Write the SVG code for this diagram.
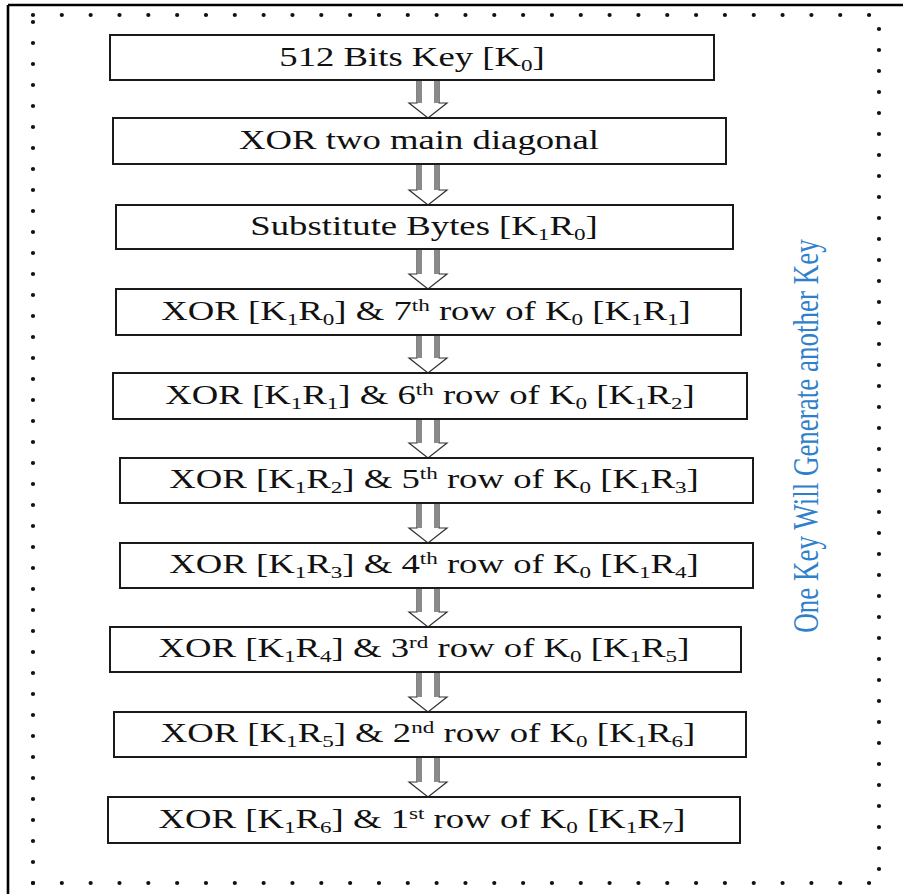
<svg xmlns="http://www.w3.org/2000/svg" width="903" height="894" viewBox="0 0 903 894">
<style>
.box{fill:#fff;stroke:#1a1a1a;stroke-width:2}
.lbl{font-family:'Liberation Serif','Times New Roman',Tinos,'DejaVu Serif',serif;font-size:27px;fill:#111;text-anchor:middle}
.sub{font-size:17px;baseline-shift:-5px}
.sup{font-size:17px;baseline-shift:9px}
.arr{fill:#fff;stroke:#333;stroke-width:1.2}
.strip{stroke:#8a8a8a;stroke-width:5;fill:none}
.dots{stroke:#111;stroke-width:4.2;stroke-linecap:round;fill:none}
.side{font-family:'Liberation Serif','Times New Roman',Tinos,'DejaVu Serif',serif;font-size:27px;fill:#2E80CC;text-anchor:middle}
</style>
<rect x="0" y="0" width="903" height="894" fill="#fff"/>
<g id="frame">
<path d="M8,5 H903 M8,5 V894" stroke="#000" stroke-width="2.6" fill="none"/>
<path class="dots" d="M33,15 H870"  stroke-dasharray="0 28.83"/>
<path class="dots" d="M33,883 H870" stroke-dasharray="0 28.83"/>
<path class="dots" d="M33,22 V884"  stroke-dasharray="0 21"/>
<path class="dots" d="M879,29 V870" stroke-dasharray="0 21"/>
</g>
<g id="connectors">
<path class="arr" d="M417,80 H439 V103 H447 L428,118 L409,103 H417 Z"/><path class="strip" d="M419.5,80 V103 M436.5,80 V103"/>
<path class="arr" d="M417,164 H439 V190 H447 L428,205 L409,190 H417 Z"/><path class="strip" d="M419.5,164 V190 M436.5,164 V190"/>
<path class="arr" d="M417,249 H439 V274 H447 L428,289 L409,274 H417 Z"/><path class="strip" d="M419.5,249 V274 M436.5,249 V274"/>
<path class="arr" d="M417,335 H439 V358 H447 L428,373 L409,358 H417 Z"/><path class="strip" d="M419.5,335 V358 M436.5,335 V358"/>
<path class="arr" d="M417,419 H439 V443 H447 L428,458 L409,443 H417 Z"/><path class="strip" d="M419.5,419 V443 M436.5,419 V443"/>
<path class="arr" d="M417,503 H439 V528 H447 L428,543 L409,528 H417 Z"/><path class="strip" d="M419.5,503 V528 M436.5,503 V528"/>
<path class="arr" d="M417,588 H439 V612 H447 L428,627 L409,612 H417 Z"/><path class="strip" d="M419.5,588 V612 M436.5,588 V612"/>
<path class="arr" d="M417,672 H439 V697 H447 L428,712 L409,697 H417 Z"/><path class="strip" d="M419.5,672 V697 M436.5,672 V697"/>
<path class="arr" d="M417,757 H439 V782 H447 L428,797 L409,782 H417 Z"/><path class="strip" d="M419.5,757 V782 M436.5,757 V782"/>
</g>
<g id="n1"><rect class="box" x="110" y="35" width="604" height="45"/>
<text class="lbl" font-family="Liberation Serif, serif" transform="translate(412,66) scale(1.36,1)">512 Bits Key [K<tspan class="sub">0</tspan>]</text></g>
<g id="n2"><rect class="box" x="113" y="118" width="613" height="46"/>
<text class="lbl" font-family="Liberation Serif, serif" transform="translate(419,149) scale(1.36,1)">XOR two main diagonal</text></g>
<g id="n3"><rect class="box" x="116" y="205" width="617" height="44"/>
<text class="lbl" font-family="Liberation Serif, serif" transform="translate(424,235) scale(1.36,1)">Substitute Bytes [K<tspan class="sub">1</tspan>R<tspan class="sub">0</tspan>]</text></g>
<g id="n4"><rect class="box" x="116" y="289" width="625" height="46"/>
<text class="lbl" font-family="Liberation Serif, serif" transform="translate(426,320) scale(1.36,1)">XOR [K<tspan class="sub">1</tspan>R<tspan class="sub">0</tspan>] &amp; 7<tspan class="sup">th</tspan> row of K<tspan class="sub">0</tspan> [K<tspan class="sub">1</tspan>R<tspan class="sub">1</tspan>]</text></g>
<g id="n5"><rect class="box" x="113" y="373" width="634" height="46"/>
<text class="lbl" font-family="Liberation Serif, serif" transform="translate(430,404) scale(1.36,1)">XOR [K<tspan class="sub">1</tspan>R<tspan class="sub">1</tspan>] &amp; 6<tspan class="sup">th</tspan> row of K<tspan class="sub">0</tspan> [K<tspan class="sub">1</tspan>R<tspan class="sub">2</tspan>]</text></g>
<g id="n6"><rect class="box" x="120" y="458" width="633" height="45"/>
<text class="lbl" font-family="Liberation Serif, serif" transform="translate(434,488) scale(1.36,1)">XOR [K<tspan class="sub">1</tspan>R<tspan class="sub">2</tspan>] &amp; 5<tspan class="sup">th</tspan> row of K<tspan class="sub">0</tspan> [K<tspan class="sub">1</tspan>R<tspan class="sub">3</tspan>]</text></g>
<g id="n7"><rect class="box" x="120" y="543" width="633" height="45"/>
<text class="lbl" font-family="Liberation Serif, serif" transform="translate(434,573) scale(1.36,1)">XOR [K<tspan class="sub">1</tspan>R<tspan class="sub">3</tspan>] &amp; 4<tspan class="sup">th</tspan> row of K<tspan class="sub">0</tspan> [K<tspan class="sub">1</tspan>R<tspan class="sub">4</tspan>]</text></g>
<g id="n8"><rect class="box" x="110" y="627" width="631" height="45"/>
<text class="lbl" font-family="Liberation Serif, serif" transform="translate(424,657) scale(1.36,1)">XOR [K<tspan class="sub">1</tspan>R<tspan class="sub">4</tspan>] &amp; 3<tspan class="sup">rd</tspan> row of K<tspan class="sub">0</tspan> [K<tspan class="sub">1</tspan>R<tspan class="sub">5</tspan>]</text></g>
<g id="n9"><rect class="box" x="114" y="712" width="632" height="45"/>
<text class="lbl" font-family="Liberation Serif, serif" transform="translate(428,742) scale(1.36,1)">XOR [K<tspan class="sub">1</tspan>R<tspan class="sub">5</tspan>] &amp; 2<tspan class="sup">nd</tspan> row of K<tspan class="sub">0</tspan> [K<tspan class="sub">1</tspan>R<tspan class="sub">6</tspan>]</text></g>
<g id="n10"><rect class="box" x="108" y="797" width="632" height="46"/>
<text class="lbl" font-family="Liberation Serif, serif" transform="translate(422,828) scale(1.36,1)">XOR [K<tspan class="sub">1</tspan>R<tspan class="sub">6</tspan>] &amp; 1<tspan class="sup">st</tspan> row of K<tspan class="sub">0</tspan> [K<tspan class="sub">1</tspan>R<tspan class="sub">7</tspan>]</text></g>
<g id="side-label">
<text class="side" font-family="Liberation Serif, serif" transform="translate(818,436) scale(1.36,1) rotate(-90)">One Key Will Generate another Key</text>
</g>
</svg>
